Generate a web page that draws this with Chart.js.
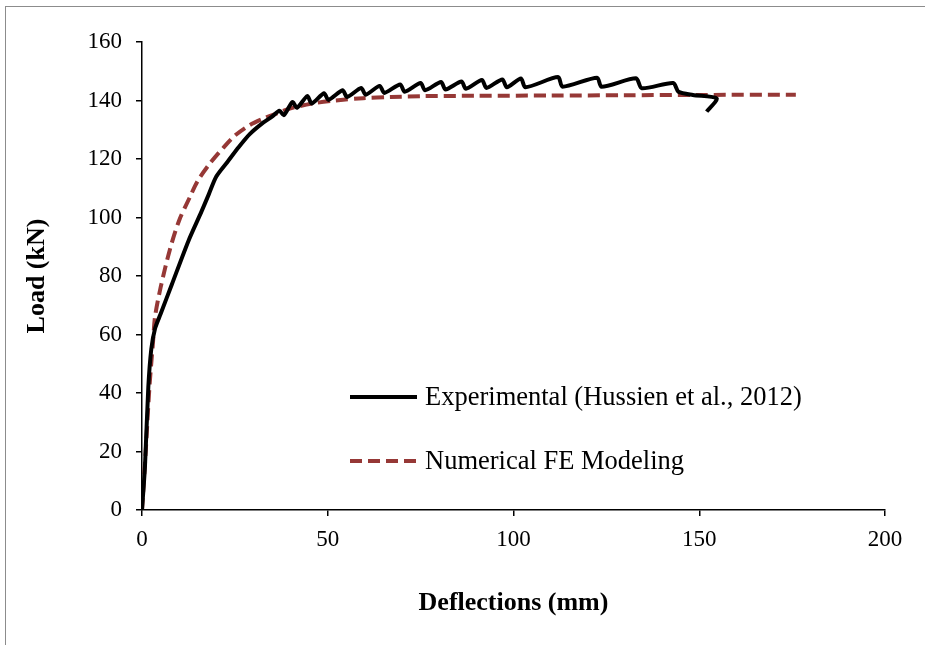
<!DOCTYPE html>
<html>
<head>
<meta charset="utf-8">
<script src="https://cdn.jsdelivr.net/npm/chart.js@4.4.0/dist/chart.umd.min.js"></script>
<style>
  body { margin: 0; background: #fff; }
  #wrap { position: relative; width: 925px; height: 645px; }
  #frame { position: absolute; left: 5px; top: 6px; right: -2px; bottom: -2px; border-left: 1px solid #8c8c8c; border-top: 1px solid #8c8c8c; }
  canvas { position: absolute; left: 0; top: 0; }
</style>
</head>
<body>
<div id="wrap">
  <div id="frame"></div>
  <canvas id="mycanvas" width="925" height="645"></canvas>
</div>
<script>
// Experimental (Hussien et al., 2012)
var expX = [0, 0.8, 1.7, 2.5, 3.5, 5, 8, 12.5, 16, 18, 20, 23, 26, 29, 32.7, 35, 37, 38.2,
  40.5, 41.7, 44.5, 45.7, 49, 50.2, 54, 55.2, 59, 60.2, 64, 65.2, 69.5, 70.7, 75, 76.2,
  80.5, 81.7, 86, 87.2, 91.5, 92.7, 97, 98.2, 102, 103.2, 112, 113.2, 122.5, 123.7, 133, 134.5,
  143, 144.4, 148.3, 154.7, 152];
var expY = [0, 15, 42, 55, 62, 67, 77, 92, 102, 108, 114, 119, 124, 128.5, 132.5, 134.5, 136.5, 135,
  139.5, 137.5, 141.5, 139, 142.5, 140.2, 143.5, 141.2, 144.3, 142, 145, 142.6, 145.5, 143, 146, 143.5,
  146.3, 143.8, 146.5, 144, 147, 144.3, 147.2, 144.5, 147.5, 144.5, 148, 144.7, 147.8, 144.7, 147.6, 144.2,
  146, 143, 141.9, 140.7, 136.2];

// Numerical FE Modeling
var feX = [0, 1, 2, 3, 3.5, 5, 7.5, 10, 12.9, 15, 18.3, 22, 25, 29, 33, 36.3, 40, 46, 52, 59.5, 67, 75.6, 90, 110, 130, 150, 176];
var feY = [0, 20, 42, 58, 66, 76, 89, 99, 107, 112.5, 118.5, 124, 128, 131.6, 134, 135.6, 137.3, 139, 140, 140.8, 141.2, 141.5, 141.6, 141.7, 141.8, 141.9, 142];

var xTicks = [0, 50, 100, 150, 200];
var yTicks = [0, 20, 40, 60, 80, 100, 120, 140, 160];

function pts(xs, ys) {
  var out = [];
  for (var i in xs) out.push({x: xs[i], y: ys[i]});
  return out;
}

var serif = "'Liberation Serif', 'Times New Roman', serif";

var legendPlugin = {
  id: 'insideLegend',
  afterDraw: function(chart) {
    var ctx = chart.ctx;
    var a = chart.chartArea;
    var rows = [a.top + 355, a.top + 419];
    ctx.save();
    chart.data.datasets.forEach(function(ds, i) {
      var y = rows[i];
      ctx.beginPath();
      ctx.strokeStyle = ds.borderColor;
      ctx.lineWidth = ds.borderWidth;
      ctx.setLineDash(ds.borderDash || []);
      ctx.moveTo(a.left + 208, y);
      ctx.lineTo(a.left + 275, y);
      ctx.stroke();
      ctx.setLineDash([]);
      ctx.fillStyle = '#000';
      ctx.font = '26.5px ' + serif;
      ctx.textBaseline = 'middle';
      ctx.fillText(ds.label, a.left + 283, y + 1);
    });
    ctx.restore();
  }
};

var ctx = document.getElementById('mycanvas');
var chart = new Chart(ctx, {
  type: 'line',
  data: {
    datasets: [
      {
        label: 'Experimental (Hussien et al., 2012)',
        data: pts(expX, expY),
        borderColor: '#000000',
        borderWidth: 4,
        pointRadius: 0,
        tension: 0.25,
        fill: false
      },
      {
        label: 'Numerical FE Modeling',
        data: pts(feX, feY),
        borderColor: '#963836',
        borderWidth: 4,
        borderDash: [12, 6],
        pointRadius: 0,
        tension: 0.3,
        fill: false
      }
    ]
  },
  options: {
    responsive: false,
    animation: false,
    layout: { padding: { left: 0, top: 42, right: 40, bottom: 0 } },
    plugins: { legend: { display: false }, tooltip: { enabled: false } },
    scales: {
      x: {
        type: 'linear',
        min: 0, max: 200,
        afterBuildTicks: function(s) { s.ticks = xTicks.map(function(v) { return {value: v}; }); },
        afterFit: function(s) { s.height = 135; },
        ticks: { color: '#000', font: { family: serif, size: 23 }, padding: 10, maxRotation: 0 },
        grid: { display: true, drawOnChartArea: false, drawTicks: true, tickLength: 6, color: '#000', lineWidth: 1.5 },
        border: { display: true, color: '#000', width: 1.5 },
        title: { display: true, text: 'Deflections (mm)', color: '#000', font: { family: serif, size: 26, weight: 'bold' }, padding: { top: 20, bottom: 26 } }
      },
      y: {
        min: 0, max: 160,
        afterBuildTicks: function(s) { s.ticks = yTicks.map(function(v) { return {value: v}; }); },
        afterFit: function(s) { s.width = 142; },
        ticks: { color: '#000', font: { family: serif, size: 23 }, padding: 14 },
        grid: { display: true, drawOnChartArea: false, drawTicks: true, tickLength: 6, color: '#000', lineWidth: 1.5 },
        border: { display: true, color: '#000', width: 1.5 },
        title: { display: true, text: 'Load (kN)', color: '#000', font: { family: serif, size: 26, weight: 'bold' }, padding: { top: 22, bottom: 0 } }
      }
    }
  },
  plugins: [legendPlugin]
});
</script>
</body>
</html>
